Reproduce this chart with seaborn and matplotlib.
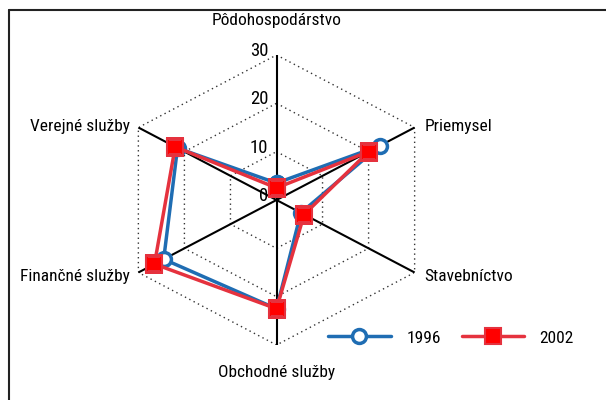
import numpy as np
import seaborn as sns
from matplotlib import pyplot as plt
from matplotlib.lines import Line2D

# categories clockwise from the top
categories = ["Pôdohospodárstvo", "Priemysel", "Stavebníctvo",
              "Obchodné služby", "Finančné služby", "Verejné služby"]
values_1996 = [3.5, 22.5, 5.3, 22.5, 24.5, 21.5]
values_2002 = [2.5, 20.0, 6.0, 22.5, 26.5, 22.0]
series_names = ["1996", "2002"]
r_ticks = [0, 10, 20, 30]

sns.set_style("white")
plt.rcParams["font.family"] = ["Roboto Condensed", "Liberation Sans", "DejaVu Sans"]
plt.rcParams["text.color"] = "black"
fs = 12.5

blue = "#1f6db3"
red = "#e5323e"

n = len(categories)
theta = np.arange(n) * 2 * np.pi / n
theta_closed = np.append(theta, 2 * np.pi)

fig = plt.figure(figsize=(6.06, 4.0), dpi=100)
ax = fig.add_axes([117 / 606, 55 / 400, 319 / 606, 290 / 400], projection="polar")
ax.set_aspect("auto")
ax.set_theta_offset(np.pi / 2)
ax.set_theta_direction(-1)
ax.set_ylim(0, r_ticks[-1])
ax.grid(False)
ax.spines["polar"].set_visible(False)
ax.set_xticks([])
ax.set_yticks([])

# hexagon grid
for r in r_ticks[1:]:
    ax.plot(theta_closed, [r] * (n + 1), color="#333333", lw=1,
            ls=(0, (1, 2.5)), zorder=1)
# spokes
for t in theta:
    ax.plot([t, t], [0, r_ticks[-1]], color="black", lw=1.5, zorder=2)

sns.lineplot(x=theta_closed, y=np.append(values_1996, values_1996[0]), sort=False,
             color=blue, lw=2.5, marker="o", markersize=10, markerfacecolor="white",
             markeredgecolor=blue, markeredgewidth=2.5, label=series_names[0],
             ax=ax, zorder=3)
sns.lineplot(x=theta_closed, y=np.append(values_2002, values_2002[0]), sort=False,
             color=red, lw=2.5, marker="s", markersize=12, markerfacecolor="#ff0000",
             markeredgecolor=red, markeredgewidth=1.5, label=series_names[1],
             ax=ax, zorder=4)

# radial tick labels along the top spoke
for r in r_ticks:
    ax.annotate(str(r), xy=(0, r), xytext=(-8, 4), textcoords="offset pixels",
                ha="right", va="center", fontsize=13.5)

# category labels
offsets = [(0, 34, "center", "center"), (10, 1, "left", "center"),
           (10, -4, "left", "center"), (0, -27, "center", "center"),
           (-8, -4, "right", "center"), (-8, 1, "right", "center")]
for t, lab, (dx, dy, ha, va) in zip(theta, categories, offsets):
    ax.annotate(lab, xy=(t, r_ticks[-1]), xytext=(dx, dy), textcoords="offset pixels",
                ha=ha, va=va, fontsize=fs)

ax.set_xlabel("")
ax.set_ylabel("")
ax.legend(loc="center", bbox_to_anchor=(451 / 606, 1 - 338 / 400),
          bbox_transform=fig.transFigure, ncol=2, frameon=False, fontsize=fs,
          handlelength=3.6, columnspacing=1.2, handletextpad=0.9)

# frame edges (left and top) of the original box
fig.add_artist(Line2D([9 / 606, 9 / 606], [0, 1 - 10 / 400], color="#222222", lw=1.5))
fig.add_artist(Line2D([9 / 606, 1], [1 - 10 / 400, 1 - 10 / 400], color="#222222", lw=1.5))

fig.savefig("out.png", dpi=100)
